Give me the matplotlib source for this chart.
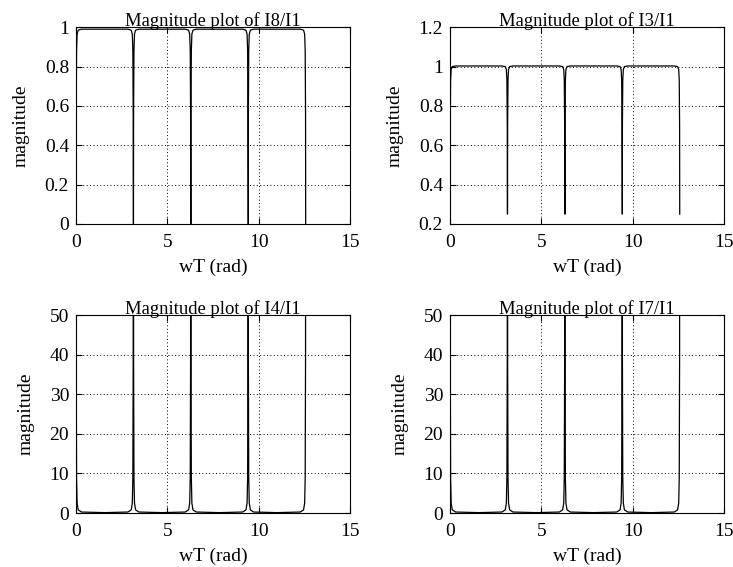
import numpy as np
import matplotlib
matplotlib.use('Agg')
import matplotlib.pyplot as plt

plt.rcParams['font.family'] = ['Liberation Serif', 'DejaVu Serif']
plt.rcParams['font.size'] = 14

# --- Data (wT in rad, shared by all four curves) --- #
wT = [0.0, 0.01, 0.03, 0.06, 0.12, 0.3, 1.57, 2.84, 3.02, 3.08, 3.11, 3.13, 3.1416,
      3.15, 3.17, 3.20, 3.26, 3.44, 4.71, 5.98, 6.16, 6.22, 6.25, 6.27, 6.2832,
      6.29, 6.31, 6.34, 6.40, 6.58, 7.85, 9.12, 9.30, 9.36, 9.39, 9.41, 9.4248,
      9.43, 9.45, 9.48, 9.54, 9.72, 11.0, 12.27, 12.45, 12.51, 12.54, 12.56, 12.5664]

mag_I8 = [0.0, 0.55, 0.88, 0.965, 0.985, 0.99, 0.99, 0.99, 0.985, 0.965, 0.88, 0.55, 0.0,
          0.55, 0.88, 0.965, 0.985, 0.99, 0.99, 0.99, 0.985, 0.965, 0.88, 0.55, 0.0,
          0.55, 0.88, 0.965, 0.985, 0.99, 0.99, 0.99, 0.985, 0.965, 0.88, 0.55, 0.0,
          0.55, 0.88, 0.965, 0.985, 0.99, 0.99, 0.99, 0.985, 0.965, 0.88, 0.55, 0.0]

mag_I3 = [0.25, 0.7, 0.93, 0.985, 1.0, 1.003, 1.003, 1.003, 1.0, 0.985, 0.93, 0.7, 0.25,
          0.7, 0.93, 0.985, 1.0, 1.003, 1.003, 1.003, 1.0, 0.985, 0.93, 0.7, 0.25,
          0.7, 0.93, 0.985, 1.0, 1.003, 1.003, 1.003, 1.0, 0.985, 0.93, 0.7, 0.25,
          0.7, 0.93, 0.985, 1.0, 1.003, 1.003, 1.003, 1.0, 0.985, 0.93, 0.7, 0.25]

mag_I4 = [400, 40, 9, 2.5, 0.8, 0.25, 0.1, 0.25, 0.8, 2.5, 9, 40, 400,
          40, 9, 2.5, 0.8, 0.25, 0.1, 0.25, 0.8, 2.5, 9, 40, 400,
          40, 9, 2.5, 0.8, 0.25, 0.1, 0.25, 0.8, 2.5, 9, 40, 400,
          40, 9, 2.5, 0.8, 0.25, 0.1, 0.25, 0.8, 2.5, 9, 40, 400]

mag_I7 = [400, 40, 9, 2.5, 0.8, 0.25, 0.1, 0.25, 0.8, 2.5, 9, 40, 400,
          40, 9, 2.5, 0.8, 0.25, 0.1, 0.25, 0.8, 2.5, 9, 40, 400,
          40, 9, 2.5, 0.8, 0.25, 0.1, 0.25, 0.8, 2.5, 9, 40, 400,
          40, 9, 2.5, 0.8, 0.25, 0.1, 0.25, 0.8, 2.5, 9, 40, 400]

titles = ['Magnitude plot of I8/I1', 'Magnitude plot of I3/I1',
          'Magnitude plot of I4/I1', 'Magnitude plot of I7/I1']
series = [mag_I8, mag_I3, mag_I4, mag_I7]
x_ticks = [0, 5, 10, 15]
y_ticks = [[0, 0.2, 0.4, 0.6, 0.8, 1.0],
           [0.2, 0.4, 0.6, 0.8, 1.0, 1.2],
           [0, 10, 20, 30, 40, 50],
           [0, 10, 20, 30, 40, 50]]
y_labels = [['0', '0.2', '0.4', '0.6', '0.8', '1'],
            ['0.2', '0.4', '0.6', '0.8', '1', '1.2'],
            ['0', '10', '20', '30', '40', '50'],
            ['0', '10', '20', '30', '40', '50']]

# --- Figure layout (MATLAB-like 2x2) --- #
fig = plt.figure(figsize=(7.33, 5.67), dpi=100)
rects = [[0.1037, 0.605, 0.374, 0.347],
         [0.614, 0.605, 0.374, 0.347],
         [0.1037, 0.0952, 0.374, 0.349],
         [0.614, 0.0952, 0.374, 0.349]]

for rect, ttl, mag, yt, yl in zip(rects, titles, series, y_ticks, y_labels):
    ax = fig.add_axes(rect)
    ax.plot(wT, mag, color='black', linewidth=0.9)
    ax.set_xlim(0, 15)
    ax.set_ylim(yt[0], yt[-1])
    ax.set_xticks(x_ticks)
    ax.set_xticklabels([str(t) for t in x_ticks])
    ax.set_yticks(yt)
    ax.set_yticklabels(yl)
    ax.grid(True, color='black', linestyle=(0, (1, 2.5)), linewidth=0.7)
    ax.tick_params(direction='in', top=True, right=True, length=4, labelsize=14)
    ax.tick_params(axis='x', pad=7)
    ax.tick_params(axis='y', pad=5)
    for sp in ax.spines.values():
        sp.set_linewidth(0.8)
    ax.set_title(ttl, pad=1, fontsize=13.4)
    ax.set_xlabel('wT (rad)', labelpad=6)
    ax.set_ylabel('magnitude', labelpad=11)

fig.savefig('out.png', dpi=100)
